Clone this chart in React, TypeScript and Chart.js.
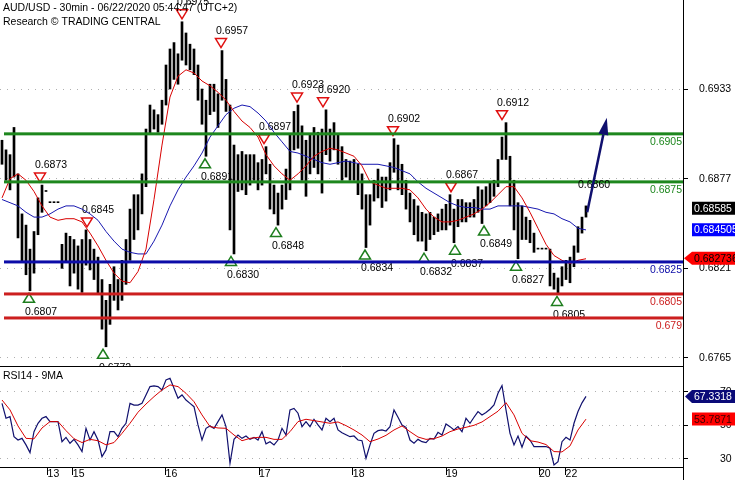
import React, { useEffect, useRef } from "react";
import { Chart, registerables } from "chart.js";

Chart.register(...registerables);

const FONT = '"Liberation Sans", Arial, sans-serif';

// ---------- DATA (x axis unit = 1 slot, about one hour) ----------
const headerLine1 = "AUD/USD - 30min - 06/22/2020 05:44:47 (UTC+2)";
const headerLine2 = "Research \u00A9 TRADING CENTRAL";
const rsiTitle = "RSI14 - 9MA";

const barHigh = [
  0.6901, 0.6895, 0.6892, 0.6909, 0.688, 0.6855, 0.6848, 0.6833, 0.6844, 0.6865,
  0.6873, 0.6869, 0.6862, 0.6862, 0.6862, 0.6836, 0.6843, 0.6841, 0.6839, 0.6835,
  0.6839, 0.6845, 0.6839, 0.6833, 0.6828, 0.6814, 0.6801, 0.6811, 0.6822, 0.6814,
  0.6826, 0.6839, 0.6858, 0.6867, 0.6867, 0.688, 0.6908, 0.6923, 0.692, 0.6917,
  0.6926, 0.6948, 0.6958, 0.6962, 0.6955, 0.6975, 0.6968, 0.6961, 0.6958, 0.6948,
  0.6933, 0.6926, 0.6936, 0.6936, 0.693, 0.6957, 0.6939, 0.6923, 0.6898, 0.6892,
  0.6894, 0.6892, 0.6892, 0.6892, 0.6887, 0.6889, 0.6897, 0.6886, 0.6873, 0.6868,
  0.6873, 0.6883, 0.6905, 0.6919, 0.6923, 0.691, 0.6901, 0.6905, 0.6909, 0.6906,
  0.6908, 0.692, 0.6908, 0.6912, 0.6905, 0.6897, 0.6889, 0.6888, 0.6889, 0.6886,
  0.688, 0.6867, 0.6867, 0.6876, 0.6883, 0.6878, 0.6878, 0.6887, 0.6902, 0.6898,
  0.6886, 0.6876, 0.6868, 0.6864, 0.686, 0.6856, 0.6855, 0.6856, 0.6853, 0.6855,
  0.6858, 0.6861, 0.6867, 0.6858, 0.6864, 0.6864, 0.6862, 0.6862, 0.6864, 0.6872,
  0.687, 0.6872, 0.6875, 0.6876, 0.6889, 0.6903, 0.6912, 0.6891, 0.6876, 0.6862,
  0.686, 0.6853, 0.6851, 0.6843, 0.6833, 0.6833, 0.6833, 0.6833, 0.6818, 0.6815,
  0.6822, 0.6826, 0.6828, 0.6835, 0.6847, 0.6853, 0.686,
];
const barLow = [
  0.6886, 0.6876, 0.687, 0.6878, 0.684, 0.6825, 0.6817, 0.6807, 0.6818, 0.6842,
  0.6856, 0.6869, 0.6862, 0.6862, 0.6862, 0.6821, 0.6825, 0.681, 0.6818, 0.6808,
  0.6806, 0.6823, 0.682, 0.6814, 0.6805, 0.6783, 0.6772, 0.6786, 0.6801, 0.6795,
  0.6801, 0.6811, 0.6826, 0.6839, 0.6845, 0.6855, 0.6872, 0.6905, 0.6908, 0.6906,
  0.6911, 0.6923, 0.6933, 0.6939, 0.6936, 0.6951, 0.6948, 0.6945, 0.6942, 0.6926,
  0.6911, 0.6891, 0.6917, 0.6919, 0.6909, 0.6926, 0.6919, 0.6845, 0.683, 0.6869,
  0.687, 0.6867, 0.6873, 0.6876, 0.687, 0.6873, 0.688, 0.6858, 0.6855, 0.6848,
  0.6858, 0.6864, 0.687, 0.6895, 0.6896, 0.6876, 0.6866, 0.688, 0.6884, 0.688,
  0.6868, 0.6892, 0.6888, 0.6895, 0.6886, 0.6876, 0.6878, 0.6876, 0.6876, 0.6867,
  0.6858, 0.6834, 0.6848, 0.6863, 0.6865, 0.6859, 0.6863, 0.687, 0.6881, 0.687,
  0.6867, 0.6858, 0.685, 0.6842, 0.6838, 0.6838, 0.6832, 0.6839, 0.6842, 0.6844,
  0.6845, 0.6845, 0.6848, 0.6837, 0.6847, 0.685, 0.685, 0.6853, 0.6853, 0.6856,
  0.6849, 0.686, 0.6862, 0.6866, 0.6872, 0.6889, 0.6889, 0.686, 0.6845, 0.6827,
  0.6839, 0.6839, 0.6837, 0.6831, 0.6833, 0.6833, 0.6833, 0.681, 0.6808, 0.6805,
  0.681, 0.6814, 0.6812, 0.6822, 0.6831, 0.6843, 0.6853,
];
// moving averages sampled every 2 slots
const redMa = [
  0.6865, 0.6877, 0.688, 0.6876, 0.6869, 0.686, 0.6853, 0.6851, 0.6852, 0.6852,
  0.685, 0.6843, 0.6835, 0.6826, 0.6818, 0.6813, 0.6812, 0.6819, 0.6833, 0.6864,
  0.6898, 0.6928, 0.6941, 0.6945, 0.6943, 0.6938, 0.6935, 0.6931, 0.6926, 0.6919,
  0.6913, 0.6909, 0.6903, 0.6892, 0.6885, 0.688, 0.6876, 0.688, 0.6885, 0.6891,
  0.6894, 0.6896, 0.6895, 0.6893, 0.6891, 0.6885, 0.6875, 0.6873, 0.6871, 0.6871,
  0.6871, 0.687, 0.6865, 0.6858, 0.6853, 0.685, 0.685, 0.6851, 0.6853, 0.6855,
  0.6858, 0.6862, 0.6867, 0.6872, 0.6872, 0.6865, 0.6856, 0.6846, 0.6836, 0.6829,
  0.6826, 0.6824, 0.6826, 0.6827,
];
const blueMa = [
  0.6864, 0.6862, 0.686, 0.6856, 0.6853, 0.6853, 0.6855, 0.6858, 0.686, 0.686,
  0.6858, 0.6855, 0.6851, 0.6844, 0.6838, 0.6833, 0.6831, 0.683, 0.683, 0.6838,
  0.6848, 0.686, 0.687, 0.6878, 0.6885, 0.6893, 0.6903, 0.691, 0.6917, 0.6921,
  0.6923, 0.6922, 0.6918, 0.6913, 0.6906, 0.69, 0.6894, 0.6893, 0.6891, 0.6889,
  0.6887, 0.6886, 0.6887, 0.6888, 0.6887, 0.6886, 0.6886, 0.6886, 0.6885, 0.6884,
  0.6882, 0.688, 0.6875, 0.6871, 0.6868, 0.6865, 0.6862, 0.686, 0.6859, 0.6859,
  0.6858, 0.6858, 0.686, 0.686, 0.686, 0.686, 0.6859, 0.6858, 0.6856, 0.6855,
  0.6852, 0.685, 0.6846, 0.6845,
];
const rsi = [
  63.2, 54.3, 55.3, 43.3, 41.3, 42.3, 38.4, 33.8, 46.3, 51.3,
  54.3, 55.3, 52.3, 52.3, 52.3, 40.3, 42.9, 39.4, 41.7, 38.4,
  34.4, 48.3, 41.3, 46.3, 41.3, 31.4, 35.4, 46.3, 46.3, 43.3,
  48.3, 51.3, 63.2, 62.2, 62.2, 63.2, 68.2, 73.2, 73.6, 73.2,
  71.2, 77.2, 78.2, 72.2, 66.2, 68.2, 65.2, 63.2, 61.2, 50.3,
  41.3, 48.3, 49.7, 48.3, 52.3, 56.3, 49.3, 27.4, 41.7, 44.3,
  42.3, 43.7, 41.7, 42.9, 41.3, 46.3, 39.0, 40.3, 38.4, 41.3,
  48.3, 44.3, 59.3, 60.2, 57.3, 49.3, 52.3, 49.3, 53.7, 50.3,
  47.3, 54.3, 52.3, 54.3, 47.3, 45.7, 44.5, 43.3, 43.7, 41.3,
  40.9, 30.4, 38.4, 45.3, 46.9, 47.3, 46.7, 49.3, 59.3, 54.9,
  50.3, 48.9, 41.3, 39.4, 41.7, 40.3, 39.8, 42.3, 41.9, 45.9,
  44.3, 50.9, 49.3, 47.3, 49.3, 46.3, 54.3, 51.3, 54.9, 58.3,
  56.3, 57.7, 59.7, 62.2, 69.2, 73.8, 59.3, 45.3, 38.4, 43.7,
  37.0, 43.7, 41.3, 37.4, 37.4, 37.4, 37.4, 36.4, 26.4, 28.4,
  40.3, 42.9, 41.3, 51.3, 58.3, 63.5, 67.33,
];
const rsiMa = [
  65.2, 59.3, 49.7, 42.3, 42.0, 48.5, 52.3, 52.3, 46.9, 42.1,
  39.8, 41.7, 40.9, 38.4, 39.8, 45.3, 51.3, 57.9, 62.8, 67.2,
  71.2, 74.2, 73.2, 69.2, 64.2, 56.3, 49.3, 48.5, 48.3, 44.3,
  40.9, 42.3, 42.9, 42.9, 41.7, 41.7, 46.3, 52.3, 53.7, 52.9,
  52.1, 51.3, 52.1, 49.9, 47.3, 44.3, 40.3, 41.9, 44.1, 47.3,
  49.7, 46.3, 43.1, 41.7, 42.1, 43.7, 46.3, 47.9, 48.9, 50.1,
  52.1, 55.3, 58.5, 63.6, 56.3, 45.3, 40.9, 40.1, 38.6, 34.4,
  34.2, 37.8, 47.3, 53.79,
];

const priceTicks = [0.6933, 0.6877, 0.6821, 0.6765];
const rsiTicks = [30, 50, 70];
const dayTickPos = [11.4, 17.7, 40.9, 64.25, 87.7, 111, 134.25, 140.9];
const dayTickLabels = ["13", "15", "16", "17", "18", "19", "20", "22"];

const levelValues = [0.6905, 0.6875, 0.6825, 0.6805, 0.679];
const levelLabels = ["0.6905", "0.6875", "0.6825", "0.6805", "0.679"];

const highX = [9.5, 21.25, 45, 54.75, 65.5, 73.75, 80.25, 97.75, 112.25, 125];
const highPrice = [0.6873, 0.6845, 0.6975, 0.6957, 0.6897, 0.6923, 0.692, 0.6902, 0.6867, 0.6912];
const lowX = [6.75, 25.25, 50.75, 57.25, 68.5, 90.75, 105.5, 113.25, 120.5, 128.5, 138.75];
const lowPrice = [0.6807, 0.6772, 0.6891, 0.683, 0.6848, 0.6834, 0.6832, 0.6837, 0.6849, 0.6827, 0.6805];

const targetText = "0.6860";
const targetPoint = [144, 0.6873];
const arrowFrom = [146.3, 0.6856];
const arrowTo = [151.2, 0.6915];

const priceBoxValues = [0.68585, 0.684505, 0.682736];
const priceBoxLabels = ["0.68585", "0.684505", "0.682736"];
const rsiBoxValues = [67.3318, 53.7871];
const rsiBoxLabels = ["67.3318", "53.7871"];

// ---------- SCALE RANGES / STYLES ----------
const X_MIN = -0.5;
const X_MAX = 170.25;
const P_MIN = 0.676;
const P_MAX = 0.69886;
const R_MIN = 25.2;
const R_MAX = 85.5;

const GREEN = "#1e871e";
const LVL_BLUE = "#0c0ca8";
const LVL_RED = "#cc1f1f";
const levelColors = [GREEN, GREEN, LVL_BLUE, LVL_RED, LVL_RED];
const MARK_RED = "#e01010";
const MARK_GREEN = "#1e7e1e";
const NAVY = "#10106e";
const priceBoxFill = ["#000000", "#0000ff", "#ff0000"];
const priceBoxText = ["#ffffff", "#ffffff", "#000000"];
const priceBoxArrow = [false, false, true];
const rsiBoxFill = ["#0a0a78", "#ff0000"];
const rsiBoxText = ["#ffffff", "#3a0000"];
const rsiBoxArrow = [true, false];

function font(size = 10.5) {
  return `${size}px ${FONT}`;
}

function drawTriangle(ctx: any, cx: number, cy: number, down: boolean, color: string) {
  const w = 5.5;
  const h = 4.5;
  ctx.beginPath();
  if (down) {
    ctx.moveTo(cx - w, cy - h);
    ctx.lineTo(cx + w, cy - h);
    ctx.lineTo(cx, cy + h);
  } else {
    ctx.moveTo(cx - w, cy + h);
    ctx.lineTo(cx + w, cy + h);
    ctx.lineTo(cx, cy - h);
  }
  ctx.closePath();
  ctx.fillStyle = "#ffffff";
  ctx.fill();
  ctx.lineWidth = 1.5;
  ctx.strokeStyle = color;
  ctx.stroke();
}

function drawValueBox(ctx: any, yc: number, left: number, right: number, fill: string, textColor: string, label: string, arrow: boolean, tipX: number) {
  const h = 13;
  ctx.beginPath();
  if (arrow) {
    ctx.moveTo(tipX, yc);
    ctx.lineTo(left, yc - h / 2);
    ctx.lineTo(right, yc - h / 2);
    ctx.lineTo(right, yc + h / 2);
    ctx.lineTo(left, yc + h / 2);
    ctx.closePath();
  } else {
    ctx.rect(left, yc - h / 2, right - left, h);
  }
  ctx.fillStyle = fill;
  ctx.fill();
  ctx.fillStyle = textColor;
  ctx.font = font();
  ctx.textAlign = "left";
  ctx.textBaseline = "middle";
  ctx.fillText(label, left + 2, yc + 0.5);
}

const mainDeco = {
  id: "mainDeco",
  beforeDatasetsDraw(chart: any) {
    const { ctx, scales } = chart;
    const xs = scales.x;
    const ys = scales.y;
    ctx.save();
    ctx.font = font();
    ctx.textAlign = "left";
    ctx.textBaseline = "middle";
    highX.forEach((sx, i) => {
      const px = xs.getPixelForValue(sx);
      const py = ys.getPixelForValue(highPrice[i]);
      drawTriangle(ctx, px, py - 7.5, true, MARK_RED);
      ctx.fillStyle = "#000";
      ctx.fillText(highPrice[i].toFixed(4), px - 5, py - 19.5);
    });
    lowX.forEach((sx, i) => {
      const px = xs.getPixelForValue(sx);
      const py = ys.getPixelForValue(lowPrice[i]);
      drawTriangle(ctx, px, py + 7, false, MARK_GREEN);
      ctx.fillStyle = "#000";
      ctx.fillText(lowPrice[i].toFixed(4), px - 4, py + 21);
    });
    ctx.restore();
  },
  afterDatasetsDraw(chart: any) {
    const { ctx, scales, chartArea } = chart;
    const xs = scales.x;
    const ys = scales.y;
    ctx.save();
    levelValues.forEach((v, i) => {
      const py = ys.getPixelForValue(v);
      ctx.fillStyle = levelColors[i];
      ctx.fillRect(chartArea.left + 4, py - 1.5, chartArea.right - chartArea.left - 4, 3);
      ctx.font = font();
      ctx.textAlign = "right";
      ctx.textBaseline = "middle";
      ctx.fillText(levelLabels[i], chartArea.right - 1, py + 8.5);
    });
    ctx.fillStyle = "#000";
    ctx.textAlign = "left";
    ctx.fillText(targetText, xs.getPixelForValue(targetPoint[0]), ys.getPixelForValue(targetPoint[1]));
    const sx = xs.getPixelForValue(arrowFrom[0]);
    const sy = ys.getPixelForValue(arrowFrom[1]);
    const ex = xs.getPixelForValue(arrowTo[0]);
    const ey = ys.getPixelForValue(arrowTo[1]);
    const ang = Math.atan2(ey - sy, ex - sx);
    const headLen = 17;
    const headW = 5;
    const bx = ex - headLen * Math.cos(ang);
    const by = ey - headLen * Math.sin(ang);
    ctx.strokeStyle = NAVY;
    ctx.fillStyle = NAVY;
    ctx.lineWidth = 2.5;
    ctx.beginPath();
    ctx.moveTo(sx, sy);
    ctx.lineTo(bx, by);
    ctx.stroke();
    ctx.beginPath();
    ctx.moveTo(ex, ey);
    ctx.lineTo(bx + headW * Math.sin(ang), by - headW * Math.cos(ang));
    ctx.lineTo(bx - headW * Math.sin(ang), by + headW * Math.cos(ang));
    ctx.closePath();
    ctx.fill();
    priceBoxValues.forEach((v, i) => {
      drawValueBox(ctx, ys.getPixelForValue(v), chartArea.right + 9, chart.width, priceBoxFill[i], priceBoxText[i], priceBoxLabels[i], priceBoxArrow[i], chartArea.right + 1);
    });
    ctx.restore();
  },
  afterDraw(chart: any) {
    const { ctx } = chart;
    ctx.save();
    ctx.font = font();
    ctx.fillStyle = "#000";
    ctx.textAlign = "left";
    ctx.textBaseline = "alphabetic";
    ctx.fillText(headerLine1, 3, 10.5);
    ctx.fillText(headerLine2, 3, 24.5);
    ctx.restore();
  },
};

const rsiDeco = {
  id: "rsiDeco",
  afterDraw(chart: any) {
    const { ctx, scales, chartArea } = chart;
    const ys = scales.y;
    ctx.save();
    ctx.strokeStyle = "#000";
    ctx.lineWidth = 1;
    ctx.beginPath();
    ctx.moveTo(0, 0.5);
    ctx.lineTo(chartArea.right, 0.5);
    ctx.moveTo(chartArea.right + 0.5, chartArea.bottom);
    ctx.lineTo(chartArea.right + 0.5, chart.height);
    ctx.stroke();
    ctx.font = font();
    ctx.fillStyle = "#000";
    ctx.textAlign = "left";
    ctx.textBaseline = "alphabetic";
    ctx.fillText(rsiTitle, 3, 12.5);
    rsiBoxValues.forEach((v, i) => {
      drawValueBox(ctx, ys.getPixelForValue(v), chartArea.right + 9, chart.width, rsiBoxFill[i], rsiBoxText[i], rsiBoxLabels[i], rsiBoxArrow[i], chartArea.right + 2);
    });
    ctx.restore();
  },
};

const yGrid = {
  color: "#b0b0b0",
  lineWidth: 1,
  tickLength: 5,
  tickColor: "#000",
  tickBorderDash: [],
  drawTicks: true,
  drawOnChartArea: true,
};

export default function App() {
  const mainRef = useRef<HTMLCanvasElement>(null);
  const rsiRef = useRef<HTMLCanvasElement>(null);

  useEffect(() => {
    const main = new Chart(mainRef.current as HTMLCanvasElement, {
      type: "bar",
      data: {
        datasets: [
          {
            type: "bar",
            data: barHigh.map((h, i) => ({ x: i, y: [barLow[i], h] })),
            backgroundColor: "#000",
            borderWidth: 0,
            barThickness: 2,
            minBarLength: 1,
            grouped: false,
            order: 3,
          } as any,
          {
            type: "line",
            data: redMa.map((v, k) => ({ x: 2 * k, y: v })),
            borderColor: "#d80000",
            borderWidth: 1,
            pointRadius: 0,
            order: 1,
          } as any,
          {
            type: "line",
            data: blueMa.map((v, k) => ({ x: 2 * k, y: v })),
            borderColor: "#1818b0",
            borderWidth: 1,
            pointRadius: 0,
            order: 2,
          } as any,
        ],
      },
      options: {
        responsive: false,
        animation: false,
        events: [],
        layout: { padding: 0 },
        plugins: { legend: { display: false }, tooltip: { enabled: false }, title: { display: false } },
        scales: {
          x: { type: "linear", min: X_MIN, max: X_MAX, display: false, offset: false },
          y: {
            type: "linear",
            position: "right",
            min: P_MIN,
            max: P_MAX,
            afterBuildTicks: (s: any) => {
              s.ticks = priceTicks.map((v) => ({ value: v }));
            },
            afterFit: (s: any) => {
              s.width = 52;
              s.paddingTop = 0;
              s.paddingBottom = 0;
            },
            ticks: {
              callback: (v: any) => Number(v).toFixed(4),
              color: "#000",
              font: { family: FONT, size: 10.5 },
              padding: 11,
            },
            grid: yGrid,
            border: { display: true, color: "#000", width: 1, dash: [1, 6] },
          },
        },
      } as any,
      plugins: [mainDeco],
    });

    const rsiChart = new Chart(rsiRef.current as HTMLCanvasElement, {
      type: "line",
      data: {
        datasets: [
          {
            data: rsi.map((v, i) => ({ x: i, y: v })),
            borderColor: NAVY,
            borderWidth: 1.2,
            pointRadius: 0,
            order: 2,
          },
          {
            data: rsiMa.map((v, k) => ({ x: 2 * k, y: v })),
            borderColor: "#d80000",
            borderWidth: 1,
            pointRadius: 0,
            order: 1,
          },
        ],
      },
      options: {
        responsive: false,
        animation: false,
        events: [],
        layout: { padding: 0 },
        plugins: { legend: { display: false }, tooltip: { enabled: false }, title: { display: false } },
        scales: {
          x: {
            type: "linear",
            min: X_MIN,
            max: X_MAX,
            position: "bottom",
            offset: false,
            afterBuildTicks: (s: any) => {
              s.ticks = dayTickPos.map((v) => ({ value: v }));
            },
            afterFit: (s: any) => {
              s.height = 13;
              s.paddingLeft = 0;
              s.paddingRight = 0;
            },
            ticks: {
              callback: (_v: any, i: number) => dayTickLabels[i],
              align: "start",
              padding: -7,
              autoSkip: false,
              maxRotation: 0,
              minRotation: 0,
              color: "#000",
              font: { family: FONT, size: 10.5 },
            },
            grid: { drawOnChartArea: false, drawTicks: true, tickLength: 8, tickColor: "#000", color: "#000" },
            border: { display: true, color: "#000", width: 1 },
          },
          y: {
            type: "linear",
            position: "right",
            min: R_MIN,
            max: R_MAX,
            afterBuildTicks: (s: any) => {
              s.ticks = rsiTicks.map((v) => ({ value: v }));
            },
            afterFit: (s: any) => {
              s.width = 52;
              s.paddingTop = 0;
              s.paddingBottom = 0;
            },
            ticks: {
              callback: (v: any) => String(v),
              color: "#000",
              font: { family: FONT, size: 10.5 },
              padding: 32,
            },
            grid: yGrid,
            border: { display: true, color: "#000", width: 1, dash: [1, 6] },
          },
        },
      } as any,
      plugins: [rsiDeco],
    });

    return () => {
      main.destroy();
      rsiChart.destroy();
    };
  }, []);

  return (
    <div style={{ position: "absolute", left: 0, top: 0, width: 735, height: 480, background: "#fff", overflow: "hidden" }}>
      <canvas ref={mainRef} width={735} height={366} style={{ position: "absolute", left: 0, top: 0 }} />
      <canvas ref={rsiRef} width={735} height={114} style={{ position: "absolute", left: 0, top: 366 }} />
    </div>
  );
}
